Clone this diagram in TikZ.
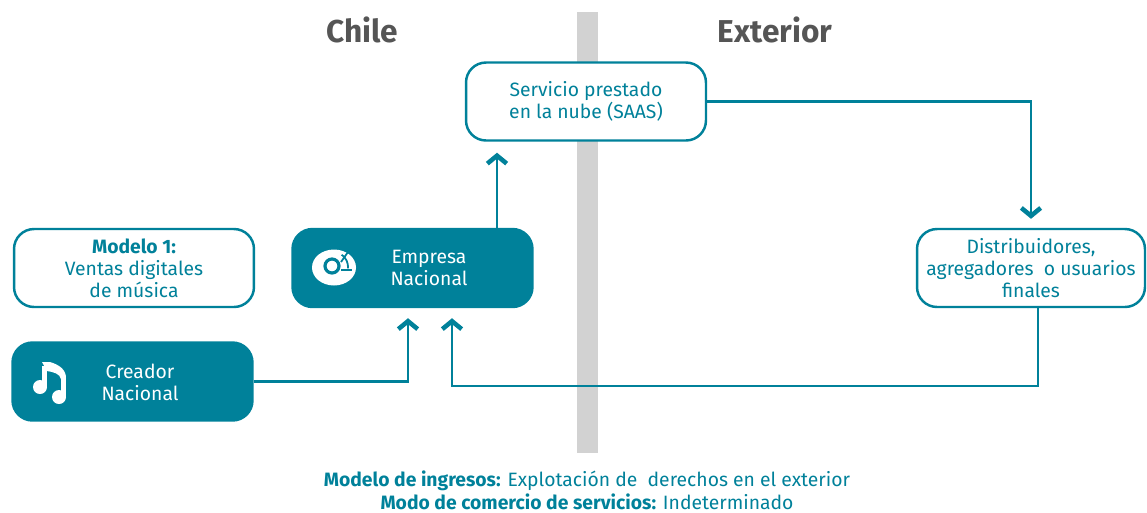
\documentclass[tikz,border=0pt]{standalone}
\usepackage{fontspec}
\setmainfont{Fira Sans}
\usepackage{xcolor}
\usetikzlibrary{positioning, calc, arrows.meta}
\definecolor{petrol}{HTML}{00819A}
\definecolor{bargray}{HTML}{D2D2D2}
\definecolor{titlegray}{HTML}{555555}

\begin{document}
\begin{tikzpicture}[x=0.02cm, y=-0.02cm,
                    >={Straight Barb[length=4.5pt, width=11pt, line width=2.6pt]}, % Arrow tip style
                    box/.style={draw=petrol, line width=1.4pt, rounded corners=0.4cm, fill=white, text=petrol,
                                align=center, minimum width=4.8cm, minimum height=1.56cm,
                                font=\fontsize{11}{12.5}\selectfont},
                    solidbox/.style={box, fill=petrol},
                    boxtext/.style={text=white, align=center, font=\fontsize{11}{12.5}\selectfont},
                    title/.style={text=titlegray, font=\fontsize{18}{20}\selectfont\bfseries},
                    flow/.style={->, draw=petrol, line width=1.4pt}]
                    \useasboundingbox (0,0) rectangle (1147,512);

                    % Border between Chile and Exterior
                    \fill[bargray] (577,12) rectangle (598,453);
                    \node[title] (chile) at (362,30) {Chile};
                    \node[title] (exterior) at (775,30) {Exterior};

                    % Boxes
                    \node[box] (servicio) at (586,101.5) {Servicio prestado\\en la nube (SAAS)};
                    \node[box] (modelo) at (134,268) {\textbf{Modelo 1:}\\Ventas digitales\\de música};
                    \node[solidbox] (empresa) at (412.5,268) {};
                    \node[boxtext] (empresaText) at (429,268) {Empresa\\Nacional};
                    \node[solidbox] (creador) at (132.5,381.5) {};
                    \node[boxtext] (creadorText) at (140,382) {Creador\\Nacional};
                    \node[box, minimum width=4.56cm] (distrib) at (1031,268) {Distribuidores,\\agregadores\ \ o usuarios\\finales};

                    % CD icon
                    \fill[white] (334,267.5) ellipse (22 and 18);
                    \draw[petrol, line width=1.8pt] (332,266) circle (7);
                    \draw[petrol, line width=1pt] (341,262) -- (348,252);
                    \draw[petrol, line width=1pt] (341,270) -- (352,270);
                    \draw[petrol, line width=1pt] (348,268.3) arc (5:-55:15);

                    % Music note icon
                    \fill[white] (40,387) circle (7);
                    \fill[white] (59,397) circle (7);
                    \fill[white] (42,366) rectangle (47,387);
                    \fill[white] (61,377) rectangle (66,397);
                    \fill[white] (42,362) -- (50,362) .. controls (60,365) and (66,370) .. (66,378)
                               -- (61,379) .. controls (60,374) and (54,372) .. (47,371) -- cycle;

                    % Connectors
                    \coordinate (upA) at (497,0);
                    \coordinate (downB) at (1038,0);
                    \coordinate (backC) at (452,386);
                    \coordinate (upD) at (408,0);
                    \draw[flow, shorten >=0.22cm] (empresa.north -| upA) -- (servicio.south -| upA);
                    \draw[flow, shorten >=0.18cm] (servicio.east) -| (distrib.north);
                    \draw[flow, shorten >=0.2cm] (distrib.south -| downB) |- (backC) -- (empresa.south -| backC);
                    \draw[flow, shorten >=0.2cm] (creador.east) -| (empresa.south -| upD);

                    % Footer
                    \node[text=petrol, align=center, font=\fontsize{11}{13}\selectfont] (footer) at (587,490)
                        {\textbf{Modelo de ingresos:} Explotación de\ \ derechos en el exterior\\
                         \textbf{Modo de comercio de servicios:} Indeterminado};
                \end{tikzpicture}
\end{document}
